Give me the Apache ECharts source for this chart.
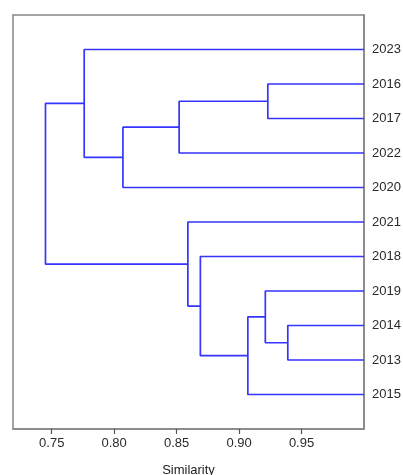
<!DOCTYPE html>
<html>
<head>
<meta charset="utf-8">
<script src="https://cdn.jsdelivr.net/npm/echarts@6/dist/echarts.min.js"></script>
<style>
  html, body { margin: 0; padding: 0; background: #fff; }
  #chart { width: 403px; height: 475px; }
</style>
</head>
<body>
<div id="chart"></div>
<script>
// Leaves of the dendrogram, top to bottom
const leaves = ['2023', '2016', '2017', '2022', '2020', '2021', '2018', '2019', '2014', '2013', '2015'];

// Merge steps: node ids 0..10 are leaves, each merge creates node 11, 12, ...
const mergeLeft  = [1, 11, 12, 0, 8, 7, 16, 6, 5, 14];
const mergeRight = [2, 3, 4, 13, 9, 15, 10, 17, 18, 19];
const mergeSimilarity = [0.923, 0.852, 0.807, 0.776, 0.939, 0.921, 0.907, 0.869, 0.859, 0.745];

// X axis ticks
const xTicks = [0.75, 0.80, 0.85, 0.90, 0.95];

// Build node positions: leaves sit at similarity 1.0, merges at the mean of children rows
const nodeX = leaves.map(() => 1.0);
const nodeY = leaves.map((_, i) => i + 1);
const linkData = [];
for (let k = 0; k < mergeLeft.length; k++) {
  const a = mergeLeft[k], b = mergeRight[k], s = mergeSimilarity[k];
  linkData.push([nodeX[a], nodeY[a]], [s, nodeY[a]], [s, nodeY[b]], [nodeX[b], nodeY[b]], '-');
  nodeX.push(s);
  nodeY.push((nodeY[a] + nodeY[b]) / 2);
}

const rowValues = leaves.map((_, i) => i + 1);
const chart = echarts.init(document.getElementById('chart'));
chart.setOption({
  animation: false,
  grid: {
    left: 13, right: 39, top: 15, bottom: 46,
    outerBoundsMode: 'none',
    containLabel: false,
    show: true, borderColor: '#858585', borderWidth: 1.5
  },
  xAxis: {
    type: 'value',
    min: 0.719, max: 1.0,
    position: 'bottom',
    name: 'Similarity',
    nameLocation: 'middle',
    nameGap: 35,
    nameTextStyle: { fontFamily: 'Liberation Sans', fontSize: 13, color: '#222' },
    axisLine: { show: true, onZero: false, lineStyle: { color: '#858585', width: 1.5 } },
    axisTick: { show: true, customValues: xTicks, length: 5, lineStyle: { color: '#555', width: 1.2 } },
    axisLabel: {
      customValues: xTicks,
      formatter: v => v.toFixed(2),
      fontFamily: 'Liberation Sans', fontSize: 13, color: '#2a2a2a', margin: 8
    },
    splitLine: { show: false }
  },
  yAxis: {
    type: 'value',
    min: 0, max: 12,
    inverse: true,
    position: 'right',
    axisLine: { show: true, onZero: false, lineStyle: { color: '#858585', width: 1.5 } },
    axisTick: { show: false },
    axisLabel: {
      customValues: rowValues,
      formatter: v => leaves[Math.round(v) - 1] || '',
      fontFamily: 'Liberation Sans', fontSize: 13, color: '#2a2a2a', margin: 8
    },
    splitLine: { show: false }
  },
  series: [{
    type: 'line',
    data: linkData,
    connectNulls: false,
    symbol: 'none',
    lineStyle: { color: '#3535ff', width: 1.7 },
    silent: true
  }]
});
</script>
</body>
</html>
